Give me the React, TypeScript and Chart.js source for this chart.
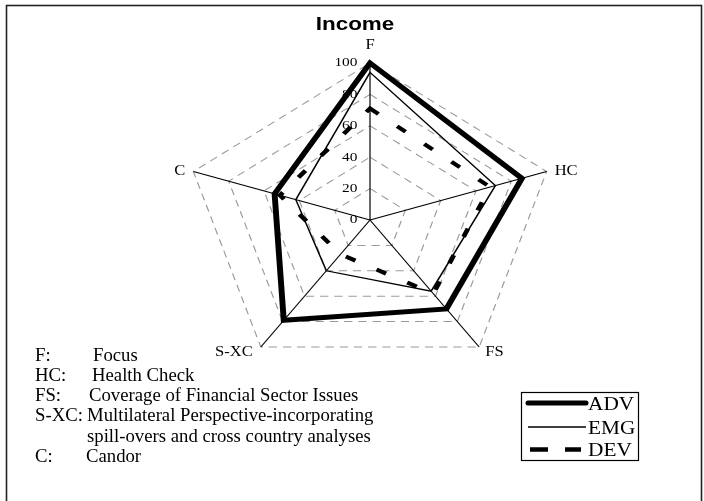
import React, { useEffect, useRef } from 'react';
import { Chart, registerables } from 'chart.js';

Chart.register(...registerables);

// ---------- data ----------
const CATEGORIES = ['F', 'HC', 'FS', 'S-XC', 'C'];
const ADV = [100, 86, 70, 79, 54];
const EMG = [94, 71, 56, 40, 42];
const DEV = [71, 68, 58, 27, 51];
const TICK_VALUES = [0, 20, 40, 60, 80, 100];
const TITLE = 'Income';
const SERIES_NAMES = ['ADV', 'EMG', 'DEV'];
const KEY_ABBR = ['F:', 'HC:', 'FS:', 'S-XC:', '', 'C:'];
const KEY_TEXT = [
  'Focus',
  'Health Check',
  'Coverage of Financial Sector Issues',
  'Multilateral Perspective-incorporating',
  'spill-overs and cross country analyses',
  'Candor',
];

// ---------- layout / style ----------
const SX = 1.183; // horizontal stretch of the radar picture
const SERIF = '"Liberation Serif", "Times New Roman", serif';
const SANS = '"Liberation Sans", Arial, sans-serif';
const LABEL_OFFSETS = [
  { dx: 0, dy: -18, align: 'center' },
  { dx: 8, dy: 0, align: 'left' },
  { dx: 6, dy: 5, align: 'left' },
  { dx: -8, dy: 5, align: 'right' },
  { dx: -8, dy: 0, align: 'right' },
];
const KEY_DESC_X = [93, 92, 89, 87, 87, 86];

function drawText(
  ctx: CanvasRenderingContext2D,
  text: string,
  x: number,
  y: number,
  font: string,
  align: CanvasTextAlign,
  sx: number
) {
  ctx.save();
  ctx.font = font;
  ctx.fillStyle = '#000';
  ctx.textAlign = align;
  ctx.textBaseline = 'middle';
  ctx.translate(x, y);
  ctx.scale(sx, 1);
  ctx.fillText(text, 0, 0);
  ctx.restore();
}

const stretchPlugin = {
  id: 'stretchRadar',
  beforeDraw(chart: any) {
    const r = chart.scales.r;
    const ctx = chart.ctx;
    ctx.save();
    ctx.translate(r.xCenter, 0);
    ctx.scale(SX, 1);
    ctx.translate(-r.xCenter, 0);
  },
  beforeDatasetsDraw(chart: any) {
    // tick labels under the series lines, drawn without the stretch of positions
    const r = chart.scales.r;
    const ctx = chart.ctx;
    ctx.save();
    ctx.translate(r.xCenter, 0);
    ctx.scale(1 / SX, 1);
    ctx.translate(-r.xCenter, 0);
    TICK_VALUES.forEach((v) => {
      const y = r.yCenter - r.getDistanceFromCenterForValue(v);
      drawText(ctx, String(v), r.xCenter - 12.5, y, `13px ${SERIF}`, 'right', SX);
    });
    ctx.restore();
  },
  afterDatasetsDraw(chart: any) {
    chart.ctx.restore();
  },
  afterDraw(chart: any) {
    const ctx: CanvasRenderingContext2D = chart.ctx;
    const r = chart.scales.r;
    const xc = r.xCenter;
    const sxPos = (x: number) => xc + (x - xc) * SX;

    // title
    drawText(ctx, TITLE, xc - 15, 25, `bold 19px ${SANS}`, 'center', SX);

    // axis labels
    CATEGORIES.forEach((lab, i) => {
      const p = r.getPointPosition(i, r.drawingArea);
      const o = LABEL_OFFSETS[i];
      drawText(ctx, lab, sxPos(p.x) + o.dx, p.y + o.dy, `14px ${SERIF}`, o.align as CanvasTextAlign, SX);
    });

    // key / footnotes
    KEY_TEXT.forEach((t, i) => {
      const y = 356 + i * 20.2;
      if (KEY_ABBR[i]) drawText(ctx, KEY_ABBR[i], 35, y, `18px ${SERIF}`, 'left', 1.04);
      drawText(ctx, t, KEY_DESC_X[i], y, `18px ${SERIF}`, 'left', 1.04);
    });

    // legend box
    ctx.save();
    ctx.strokeStyle = '#000';
    ctx.lineWidth = 1.2;
    ctx.strokeRect(521.5, 392.5, 117, 68);
    const ds = chart.data.datasets;
    const rowY = [403, 427, 449.5];
    ds.forEach((d: any, i: number) => {
      ctx.save();
      ctx.strokeStyle = d.borderColor;
      ctx.lineWidth = i === 0 ? 5 : i === 1 ? 1.3 : 4.5;
      ctx.lineCap = i === 0 ? 'round' : 'butt';
      ctx.setLineDash(i === 2 ? [18, 17] : []);
      ctx.beginPath();
      ctx.moveTo(i === 2 ? 530 : 528, rowY[i]);
      ctx.lineTo(i === 2 ? 581 : 586, rowY[i]);
      ctx.stroke();
      ctx.restore();
      drawText(ctx, d.label, 588, rowY[i] + 2, `18px ${SERIF}`, 'left', SX);
    });
    ctx.restore();

    // outer frame
    ctx.save();
    ctx.strokeStyle = '#222';
    ctx.lineWidth = 1.6;
    ctx.strokeRect(6.5, 5.5, 695, 530);
    ctx.restore();
  },
};

export default function App() {
  const ref = useRef<HTMLCanvasElement>(null);

  useEffect(() => {
    const canvas = ref.current;
    if (!canvas) return;
    const common = {
      borderColor: '#000',
      backgroundColor: 'rgba(0,0,0,0)',
      fill: false,
      pointRadius: 0,
      pointHoverRadius: 0,
      tension: 0,
      clip: false,
      borderJoinStyle: 'miter',
    };
    const chart = new Chart(canvas, {
      type: 'radar',
      data: {
        labels: CATEGORIES,
        datasets: [
          { ...common, label: SERIES_NAMES[0], data: ADV, borderWidth: 5 },
          { ...common, label: SERIES_NAMES[1], data: EMG, borderWidth: 1.3 },
          {
            ...common,
            label: SERIES_NAMES[2],
            data: DEV,
            borderWidth: 4,
            borderDash: [9, 20],
            borderCapStyle: 'butt',
          },
        ],
      } as any,
      options: {
        responsive: false,
        animation: false,
        events: [],
        layout: { padding: { left: 213, right: 177, top: 63, bottom: 124 } },
        plugins: {
          legend: { display: false },
          title: { display: false },
          tooltip: { enabled: false },
        },
        scales: {
          r: {
            min: 0,
            max: 100,
            startAngle: 0,
            afterBuildTicks: (s: any) => {
              s.ticks = TICK_VALUES.map((v) => ({ value: v }));
            },
            ticks: { display: false, stepSize: 20 },
            pointLabels: { display: false },
            grid: { color: '#9a9a9a', lineWidth: 1 },
            border: { dash: [7, 5] },
            angleLines: { display: true, color: '#000', lineWidth: 1 },
          },
        },
      } as any,
      plugins: [stretchPlugin],
    });
    return () => chart.destroy();
  }, []);

  return (
    <div
      style={{
        position: 'fixed',
        left: 0,
        top: 0,
        width: 704,
        height: 501,
        background: '#fff',
        overflow: 'hidden',
      }}
    >
      <canvas ref={ref} width={704} height={501} style={{ display: 'block' }} />
    </div>
  );
}
